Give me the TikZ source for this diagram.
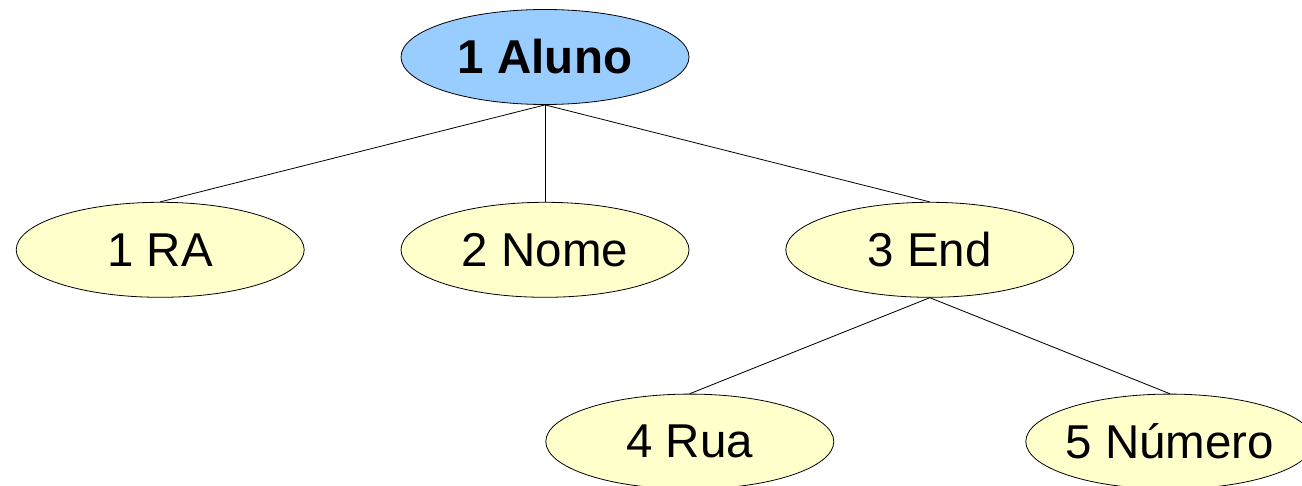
\documentclass[tikz,border=0pt]{standalone}
\usepackage{fontspec}
\setmainfont{Liberation Sans}
\usepackage{tikz}
\usetikzlibrary{positioning,shapes.geometric}
\definecolor{rootblue}{HTML}{99CCFF}
\definecolor{leafyellow}{HTML}{FFFFCC}

\begin{document}
\begin{tikzpicture}[x=1pt, y=1pt, mynode/.style={ellipse, draw, line width=0.8pt, minimum width=288pt, minimum height=95pt, inner sep=0pt, inner xsep=-10pt, fill=leafyellow, font=\fontsize{47.5}{50}\selectfont}, rootnode/.style={mynode, fill=rootblue, font=\fontsize{47.5}{50}\selectfont\bfseries}]

  \useasboundingbox (0,0) rectangle (1302,485);

  \node[rootnode] (aluno) at (545,428) {1 Aluno};
  \node[mynode] (nome) [below = 97pt of aluno] {2 Nome};
  \node[mynode] (ra) [left = 96pt of nome] {1 RA};
  \node[mynode] (end) [right = 96pt of nome] {3 End};
  \node[mynode] (rua) [below = 96pt of end, xshift=-240pt] {4 Rua};
  \node[mynode] (numero) [below = 96pt of end, xshift=240pt] {5 Número};

  \path[line width=0.8pt]
    (aluno.south) edge (ra.north)
    (aluno.south) edge (nome.north)
    (aluno.south) edge (end.north)
    (end.south) edge (rua.north)
    (end.south) edge (numero.north)
  ;
\end{tikzpicture}
\end{document}
